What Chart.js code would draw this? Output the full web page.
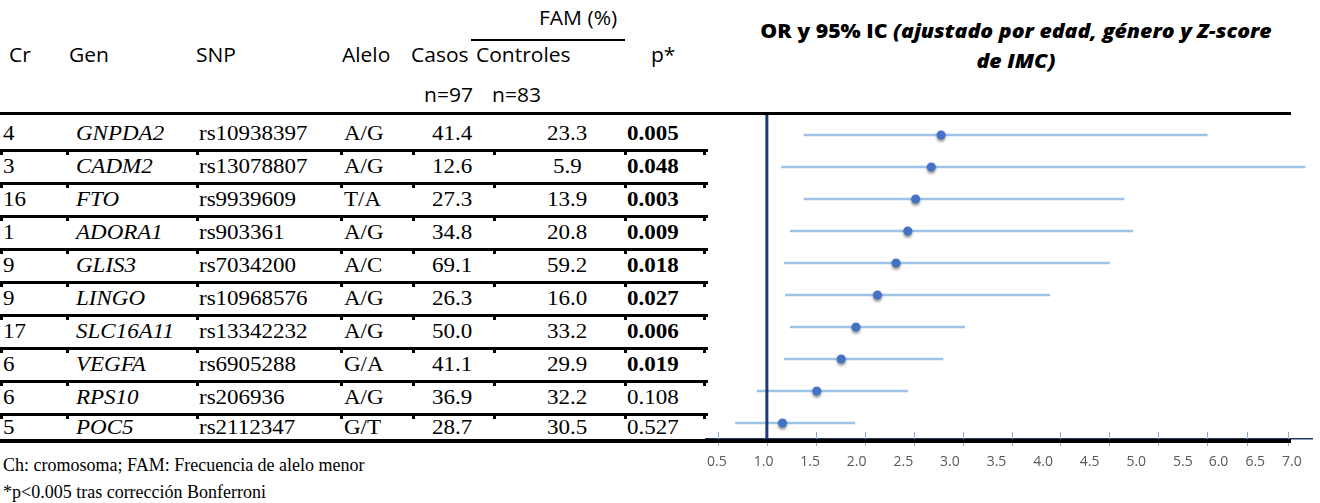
<!DOCTYPE html>
<html>
<head>
<meta charset="utf-8">
<script src="https://cdn.jsdelivr.net/npm/chart.js@4.4.1/dist/chart.umd.min.js"></script>
<style>
  body { margin: 0; width: 1320px; height: 503px; background: #fff; position: relative; overflow: hidden; }
  .t { position: absolute; white-space: nowrap; line-height: 1; transform-origin: left center; }
  .serif { font-family: "Liberation Serif", "Times New Roman", serif; font-size: 20px; color: #000; transform: scaleX(1.15); }
  .sans { font-family: "Open Sans", sans-serif; font-size: 20px; color: #000; transform: scaleX(1.05); }
  .foot { font-family: "Liberation Serif", serif; font-size: 18px; color: #000; }
  .line { position: absolute; background: #000; z-index: 5; }
  #plot { position: absolute; left: 700px; top: 100px; }
  #title { position: absolute; left: 716px; width: 600px; top: 16px; text-align: center;
           font-family: "Open Sans", sans-serif; font-weight: bold; font-size: 19px; line-height: 30px; color: #000;
           transform: scaleX(1.12); transform-origin: center; }
</style>
</head>
<body>
<div id="title"><b>OR y 95% IC</b> <b><i>(ajustado por edad, género y Z-score<br>de IMC)</i></b></div>
<canvas id="plot" width="620" height="403"></canvas>
<script>
// table data
const chromosomes = ["4", "3", "16", "1", "9", "9", "17", "6", "6", "5"];
const genes = ["GNPDA2", "CADM2", "FTO", "ADORA1", "GLIS3", "LINGO", "SLC16A11", "VEGFA", "RPS10", "POC5"];
const snps = ["rs10938397", "rs13078807", "rs9939609", "rs903361", "rs7034200", "rs10968576", "rs13342232", "rs6905288", "rs206936", "rs2112347"];
const alleles = ["A/G", "A/G", "T/A", "A/G", "A/C", "A/G", "A/G", "G/A", "A/G", "G/T"];
const famCasos = ["41.4", "12.6", "27.3", "34.8", "69.1", "26.3", "50.0", "41.1", "36.9", "28.7"];
const famControles = ["23.3", "5.9", "13.9", "20.8", "59.2", "16.0", "33.2", "29.9", "32.2", "30.5"];
const pValues = ["0.005", "0.048", "0.003", "0.009", "0.018", "0.027", "0.006", "0.019", "0.108", "0.527"];

// forest plot data (OR and 95% CI)
const orValues = [2.78, 2.68, 2.52, 2.44, 2.32, 2.13, 1.91, 1.76, 1.51, 1.16];
const ciLower = [1.38, 1.15, 1.38, 1.24, 1.18, 1.19, 1.24, 1.18, 0.90, 0.68];
const ciUpper = [5.50, 6.50, 4.65, 4.74, 4.50, 3.89, 3.02, 2.80, 2.44, 1.90];
const axisLabels = ["0.5", "1.0", "1.5", "2.0", "2.5", "3.0", "3.5", "4.0", "4.5", "5.0", "5.5", "6.0", "6.5", "7.0"];

// --- table ---
function addText(txt, cls, x, y, extra) {
  const d = document.createElement("div");
  d.className = "t " + cls;
  d.textContent = txt;
  d.style.left = x + "px";
  d.style.top = y + "px";
  if (extra) Object.assign(d.style, extra);
  document.body.appendChild(d);
  return d;
}
function addLine(x, y, w, h) {
  const d = document.createElement("div");
  d.className = "line";
  Object.assign(d.style, { left: x + "px", top: y + "px", width: w + "px", height: h + "px" });
  document.body.appendChild(d);
}

// header
addText("FAM (%)", "sans", 539, 8);
addLine(471, 39, 154, 2);
const headY = 45;
addText("Cr", "sans", 9, headY);
addText("Gen", "sans", 69, headY);
addText("SNP", "sans", 196, headY);
addText("Alelo", "sans", 342, headY);
addText("Casos", "sans", 411, headY);
addText("Controles", "sans", 476, headY);
addText("p*", "sans", 651, headY);
addText("n=97", "sans", 424, 85);
addText("n=83", "sans", 492, 85);

// rows
const colX = [3, 76, 199, 344, 432, 547, 627];
for (let i = 0; i < genes.length; i++) {
  const y = 123 + i * 33 + (i === genes.length - 1 ? -3 : 0);
  addText(chromosomes[i], "serif", colX[0], y);
  addText(genes[i], "serif", colX[1], y, { fontStyle: "italic" });
  addText(snps[i], "serif", colX[2], y);
  addText(alleles[i], "serif", colX[3], y);
  addText(famCasos[i], "serif", colX[4], y);
  const c = addText(famControles[i], "serif", colX[5], y);
  if (famControles[i].length < 4) c.style.left = (colX[5] + 6) + "px";
  addText(pValues[i], "serif", colX[6], y, { fontWeight: parseFloat(pValues[i]) < 0.05 ? "bold" : "normal" });
  if (i < genes.length - 1) {
    const ly = 123 + i * 33 + 26;
    addLine(0, ly, 708, 3);
    [0, 66, 196, 340, 412, 493, 624, 703].forEach(x => addLine(x, ly + 3, 3, 3));
  }
}
addLine(0, 112, 1291, 3);
addLine(0, 439, 1291, 4);

addText("Ch: cromosoma; FAM: Frecuencia de alelo menor", "foot", 3, 456);
addText("*p<0.005 tras corrección Bonferroni", "foot", 3, 483);

// --- forest plot ---
const tickValues = [];
for (let v = 0.5; v <= 5.5001; v += 0.5) tickValues.push(v);
tickValues.push(5.91, 6.32);
const labelValues = axisLabels.map((l, i) => i <= 10 ? 0.49 + 0.476 * i : 5.24 + 0.375 * (i - 10));

const forestLines = {
  id: "forestLines",
  beforeDatasetDraw(chart, args) {
    if (args.index === 1) {
      const c = chart.ctx;
      c.save();
      c.shadowColor = "rgba(0,0,0,0.45)";
      c.shadowBlur = 3;
      c.shadowOffsetY = 2;
    }
  },
  afterDatasetDraw(chart, args) {
    if (args.index === 1) chart.ctx.restore();
  },
  afterDraw(chart) {
    const c = chart.ctx, xs = chart.scales.x, area = chart.chartArea;
    c.save();
    // ticks crossing the axis
    c.strokeStyle = "#8eaadb";
    c.lineWidth = 1;
    xs.ticks.forEach(t => {
      const px = Math.round(xs.getPixelForValue(t.value)) + 0.5;
      c.beginPath();
      c.moveTo(px, area.bottom - 7);
      c.lineTo(px, area.bottom + 7);
      c.stroke();
    });
    // reference line at OR = 1
    const x1 = xs.getPixelForValue(1);
    c.strokeStyle = "#1f3878";
    c.lineWidth = 3;
    c.beginPath();
    c.moveTo(x1, area.top - 6);
    c.lineTo(x1, area.bottom + 2);
    c.stroke();
    c.restore();
  }
};

new Chart(document.getElementById("plot"), {
  data: {
    labels: genes,
    datasets: [
      {
        type: "bar",
        data: genes.map((g, i) => [ciLower[i], ciUpper[i]]),
        backgroundColor: "#9dc3e6",
        barThickness: 2,
        order: 2
      },
      {
        type: "line",
        data: orValues,
        showLine: false,
        pointRadius: 4.5,
        pointBackgroundColor: "#4472c4",
        pointBorderWidth: 0,
        order: 1
      }
    ]
  },
  options: {
    indexAxis: "y",
    responsive: false,
    animation: false,
    layout: { padding: { left: 0, right: 8, top: 19, bottom: 26 } },
    plugins: { legend: { display: false }, tooltip: { enabled: false } },
    scales: {
      x: {
        type: "linear", min: 0.38, max: 6.57, position: "bottom", weight: 0,
        border: { color: "#1f3864", width: 1.5 },
        grid: { display: false },
        ticks: { display: false },
        afterBuildTicks: s => { s.ticks = tickValues.map(v => ({ value: v })); },
        afterFit: s => { s.height = 8; }
      },
      xl: {
        type: "linear", min: 0.38, max: 6.57, position: "bottom", weight: 1,
        border: { display: false },
        grid: { display: false, drawTicks: false },
        afterBuildTicks: s => { s.ticks = labelValues.map(v => ({ value: v })); },
        afterFit: s => { s.height = 30; },
        ticks: {
          callback: (v, i) => axisLabels[i],
          font: { family: "Open Sans", size: 14 },
          color: "#595959",
          padding: 7,
          maxRotation: 0,
          autoSkip: false
        }
      },
      y: { type: "category", display: false, offset: true }
    }
  },
  plugins: [forestLines]
});
</script>
</body>
</html>
